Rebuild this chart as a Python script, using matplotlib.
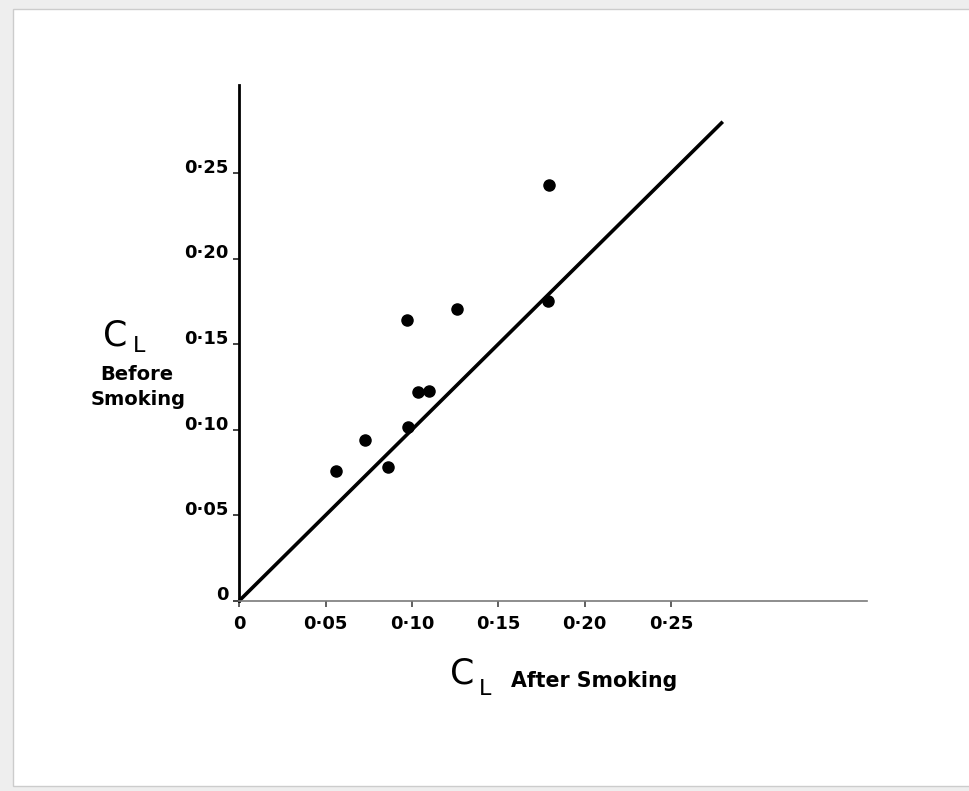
import matplotlib
matplotlib.use("Agg")
import matplotlib.pyplot as plt
from matplotlib.patches import Rectangle

# lift coefficient readings, after vs before smoking
cl_after = [0.056, 0.073, 0.086, 0.097, 0.0975, 0.1035, 0.110, 0.126, 0.1795, 0.179]
cl_before = [0.0757, 0.094, 0.078, 0.164, 0.1015, 0.122, 0.1227, 0.1706, 0.243, 0.175]

# line of equality
equal_line = [0, 0.28]

tick_vals = [0, 0.05, 0.10, 0.15, 0.20, 0.25]
tick_labels = ['0', '0·05', '0·10', '0·15', '0·20', '0·25']

W, H = 970, 791
plt.rcParams['font.family'] = ['DejaVu Sans']

fig = plt.figure(figsize=(W / 100, H / 100), dpi=100, facecolor='#eeeeee')

# white page with a faint edge, kept behind everything
page = Rectangle((13 / W, 1 - 786 / H), 1, (786 - 9) / H, transform=fig.transFigure,
                 facecolor='white', edgecolor='#cccccc', linewidth=1.0, zorder=-10)
fig.patches.append(page)

ax = fig.add_axes([239.5 / W, 1 - 600.5 / H, (867 - 239.5) / W, (600.5 - 85) / H])
ax.set_facecolor('none')
ax.set_zorder(5)

ax.plot(equal_line, equal_line, color='black', linewidth=2.6, solid_capstyle='butt', clip_on=False)
ax.plot(cl_after, cl_before, 'o', color='black', markersize=8, clip_on=False)

ax.set_xlim(0, (867 - 239.5) / 1726)
ax.set_ylim(0, (600.5 - 85) / 1710)

ax.spines['top'].set_visible(False)
ax.spines['right'].set_visible(False)
ax.spines['left'].set_linewidth(2.0)
ax.spines['left'].set_color('black')
ax.spines['bottom'].set_linewidth(1.2)
ax.spines['bottom'].set_color('#7a7a7a')

ax.set_xticks(tick_vals)
ax.set_xticklabels(tick_labels, fontsize=13, fontweight='bold')
ax.set_yticks(tick_vals)
ax.set_yticklabels(tick_labels, fontsize=13, fontweight='bold')
ax.tick_params(axis='x', direction='out', length=4.5, width=1.2, color='#444444', pad=6)
ax.tick_params(axis='y', direction='out', length=4, width=1.2, color='#222222', pad=4)
for lbl in ax.get_yticklabels():
    lbl.set_va('baseline')

# y axis title: C_L  Before Smoking
fig.text(103 / W, 1 - 345 / H, 'C', fontsize=25, ha='left', va='baseline')
fig.text(133 / W, 1 - 352 / H, 'L', fontsize=16, ha='left', va='baseline')
fig.text(137 / W, 1 - 380 / H, 'Before', fontsize=14, fontweight='bold', ha='center', va='baseline')
fig.text(138 / W, 1 - 405 / H, 'Smoking', fontsize=14, fontweight='bold', ha='center', va='baseline')

# x axis title: C_L  After Smoking
fig.text(450 / W, 1 - 683 / H, 'C', fontsize=25, ha='left', va='baseline')
fig.text(479 / W, 1 - 695 / H, 'L', fontsize=16, ha='left', va='baseline')
fig.text(511 / W, 1 - 687 / H, 'After Smoking', fontsize=14.8, fontweight='bold', ha='left', va='baseline')

fig.savefig('out.png', dpi=100, facecolor=fig.get_facecolor())
